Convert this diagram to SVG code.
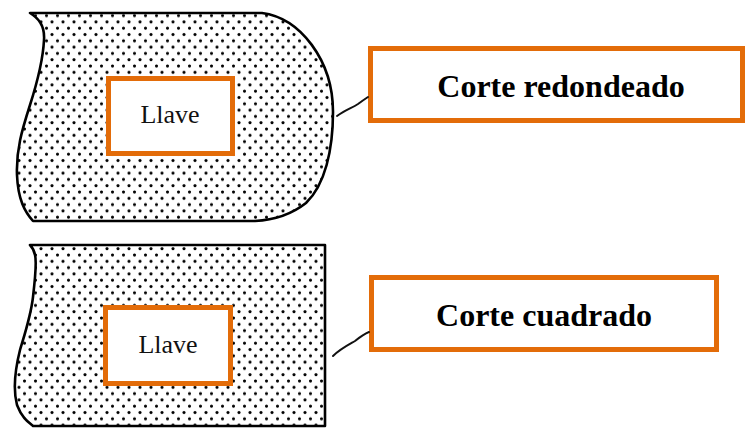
<svg xmlns="http://www.w3.org/2000/svg" width="746" height="428" viewBox="0 0 746 428">
  <defs>
    <!-- staggered stipple used to shade the cut sections -->
    <pattern id="stipple" x="0" y="0" width="11" height="12.6" patternUnits="userSpaceOnUse">
      <circle cx="2.5" cy="3" r="1.55" fill="#000"/>
      <circle cx="8" cy="9.3" r="1.55" fill="#000"/>
    </pattern>
    <path id="roundShape" d="M30,13 L262,13 C300,18 333,60 333,112 C333,150 325,185 306,203 C292,214 275,220 255,221 L33,221 C25,212 18,200 17,175 C16,150 22,130 30,105 C38,80 43,60 44,40 C45,25 38,18 30,13 Z"/>
    <path id="squareShape" d="M30,245 L325,245 L325,426 L33,426 C28,422 22,418 17,405 C13,390 15,370 20,350 C26,330 31,315 33,297 C35,280 37,262 35,255 C34,250 32,247 30,245 Z"/>
  </defs>
  <style>
    .outline { fill: url(#stipple); stroke: #000; stroke-width: 2.6; stroke-linejoin: round; }
    .key { fill: #fff; stroke: #E36C09; stroke-width: 5; }
    .label { fill: #fff; stroke: #E36C09; stroke-width: 5; }
    .keytext { font-family: "Liberation Serif", "Times New Roman", serif; font-size: 26px; fill: #111; text-anchor: middle; }
    .labeltext { font-family: "Liberation Serif", "Times New Roman", serif; font-size: 32px; font-weight: bold; fill: #000; text-anchor: middle; }
    .leader { fill: none; stroke: #111; stroke-width: 2; stroke-linecap: round; }
  </style>

  <!-- rounded cut section -->
  <g id="rounded-section">
    <use href="#roundShape" class="outline"/>
    <rect class="key" x="108.5" y="78.5" width="124" height="75"/>
    <text class="keytext" x="170" y="123">Llave</text>
  </g>

  <!-- square cut section -->
  <g id="square-section">
    <use href="#squareShape" class="outline"/>
    <rect class="key" x="105.5" y="307.5" width="125" height="76"/>
    <text class="keytext" x="168" y="353">Llave</text>
  </g>

  <!-- callout boxes -->
  <g id="label-rounded">
    <rect class="label" x="370.5" y="48.5" width="372" height="72"/>
    <text class="labeltext" x="561" y="97">Corte redondeado</text>
  </g>
  <g id="label-square">
    <rect class="label" x="371.5" y="277.5" width="345" height="72"/>
    <text class="labeltext" x="544" y="326">Corte cuadrado</text>
  </g>

  <!-- leader lines -->
  <g id="connectors">
    <path class="leader" d="M337,116 C345,110 352,108 358,104 C362,101 365,99 368,97"/>
    <path class="leader" d="M333,356 C340,349 348,345 355,341 C360,337 364,334 369,332"/>
  </g>
</svg>
